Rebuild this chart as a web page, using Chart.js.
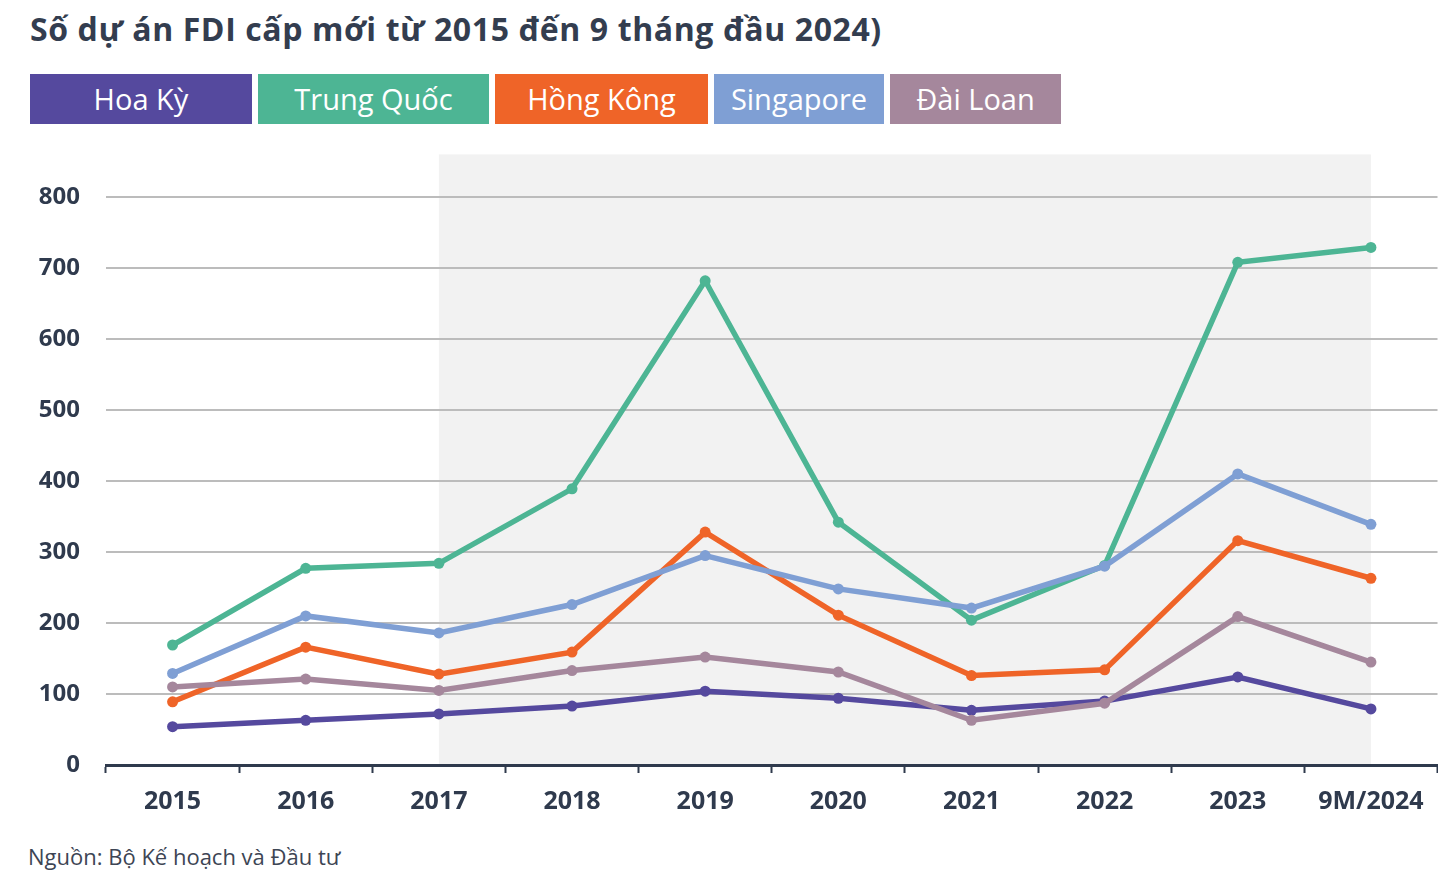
<!DOCTYPE html>
<html>
<head>
<meta charset="utf-8">
<script src="https://cdn.jsdelivr.net/npm/chart.js@4"></script>
<style>
  body { margin: 0; background: #fff; font-family: "Open Sans", sans-serif; overflow: hidden; }
  #title { position: absolute; left: 30px; top: 7px; font-size: 32px; letter-spacing: 0.6px; font-weight: 700; color: #333d4f; white-space: nowrap; }
  #legend { position: absolute; left: 30px; top: 74px; display: flex; }
  .lg { height: 50px; line-height: 50px; color: #fff; font-size: 29px; text-align: center; margin-right: 6px; }
  #wrap { position: absolute; left: 0; top: 114px; width: 1443px; height: 716px; }
  #source { position: absolute; left: 28px; top: 841px; font-size: 22px; color: #3d4554; white-space: nowrap; }
</style>
</head>
<body>
<div id="title">Số dự án FDI cấp mới từ 2015 đến 9 tháng đầu 2024)</div>
<div id="legend"></div>
<div id="wrap"><canvas id="chart"></canvas></div>
<div id="source">Nguồn: Bộ Kế hoạch và Đầu tư</div>
<script>
const years = ['2015', '2016', '2017', '2018', '2019', '2020', '2021', '2022', '2023', '9M/2024'];

const hoaKy     = [54, 63, 72, 83, 104, 94, 77, 90, 124, 79];
const trungQuoc = [169, 277, 284, 389, 682, 342, 204, 281, 708, 729];
const hongKong  = [89, 166, 128, 159, 328, 211, 126, 134, 316, 263];
const singapore = [129, 210, 186, 226, 295, 248, 221, 280, 410, 339];
const daiLoan   = [110, 121, 105, 133, 152, 131, 63, 87, 209, 145];

const seriesNames = ['Hoa Kỳ', 'Trung Quốc', 'Hồng Kông', 'Singapore', 'Đài Loan'];
const yTicks = [0, 100, 200, 300, 400, 500, 600, 700, 800];

// vùng nền xám từ 2017 đến 9M/2024
const bandFrom = '2017';
const bandTo = '9M/2024';

const colors = ['#55499e', '#4db594', '#ef6428', '#7f9fd4', '#a5879c'];
const legendWidths = [222, 231, 213, 170, 171];

const legend = document.getElementById('legend');
seriesNames.forEach((name, i) => {
    const d = document.createElement('div');
    d.className = 'lg';
    d.style.background = colors[i];
    d.style.width = legendWidths[i] + 'px';
    d.textContent = name;
    legend.appendChild(d);
});

const allData = [hoaKy, trungQuoc, hongKong, singapore, daiLoan];

const bandPlugin = {
    id: 'band',
    beforeDraw(chart) {
        const { ctx, chartArea, scales } = chart;
        const x1 = scales.x.getPixelForValue(years.indexOf(bandFrom));
        const x2 = scales.x.getPixelForValue(years.indexOf(bandTo));
        ctx.save();
        ctx.fillStyle = '#f2f2f2';
        ctx.fillRect(x1, chartArea.top, x2 - x1, chartArea.bottom - chartArea.top);
        ctx.restore();
    }
};

const darkText = '#2f3a4d';

const ctx = document.getElementById('chart').getContext('2d');
const chart = new Chart(ctx, {
    type: 'line',
    data: {
        labels: years,
        datasets: allData.map((d, i) => ({
            label: seriesNames[i],
            data: d,
            borderColor: colors[i],
            backgroundColor: colors[i],
            borderWidth: 5.5,
            pointRadius: 5.5,
            pointHoverRadius: 5.5,
            pointBorderWidth: 0,
            tension: 0,
            fill: false,
            order: 5 - i
        }))
    },
    options: {
        responsive: true,
        maintainAspectRatio: false,
        animation: false,
        layout: { padding: { top: 14, right: 1, left: 0, bottom: 0 } },
        plugins: {
            legend: { display: false },
            tooltip: { enabled: false }
        },
        scales: {
            x: {
                offset: true,
                afterFit: s => { s.height = 65; },
                grid: {
                    display: true,
                    drawOnChartArea: false,
                    drawTicks: true,
                    tickLength: 8,
                    tickWidth: 2,
                    tickColor: darkText,
                    offset: true
                },
                border: { display: true, color: darkText, width: 3 },
                ticks: {
                    padding: 14,
                    color: darkText,
                    font: { family: 'Open Sans', size: 25, weight: 'bold' }
                }
            },
            y: {
                min: 0,
                max: 860,
                afterFit: s => { s.width = 106; },
                afterBuildTicks: axis => {
                    axis.ticks = yTicks.map(v => ({ value: v }));
                },
                grid: {
                    color: '#bcbcbc',
                    lineWidth: 2,
                    drawTicks: false
                },
                border: { display: false },
                ticks: {
                    padding: 26,
                    color: darkText,
                    font: { family: 'Open Sans', size: 24, weight: 'bold' }
                }
            }
        }
    },
    plugins: [bandPlugin]
});
</script>
</body>
</html>
